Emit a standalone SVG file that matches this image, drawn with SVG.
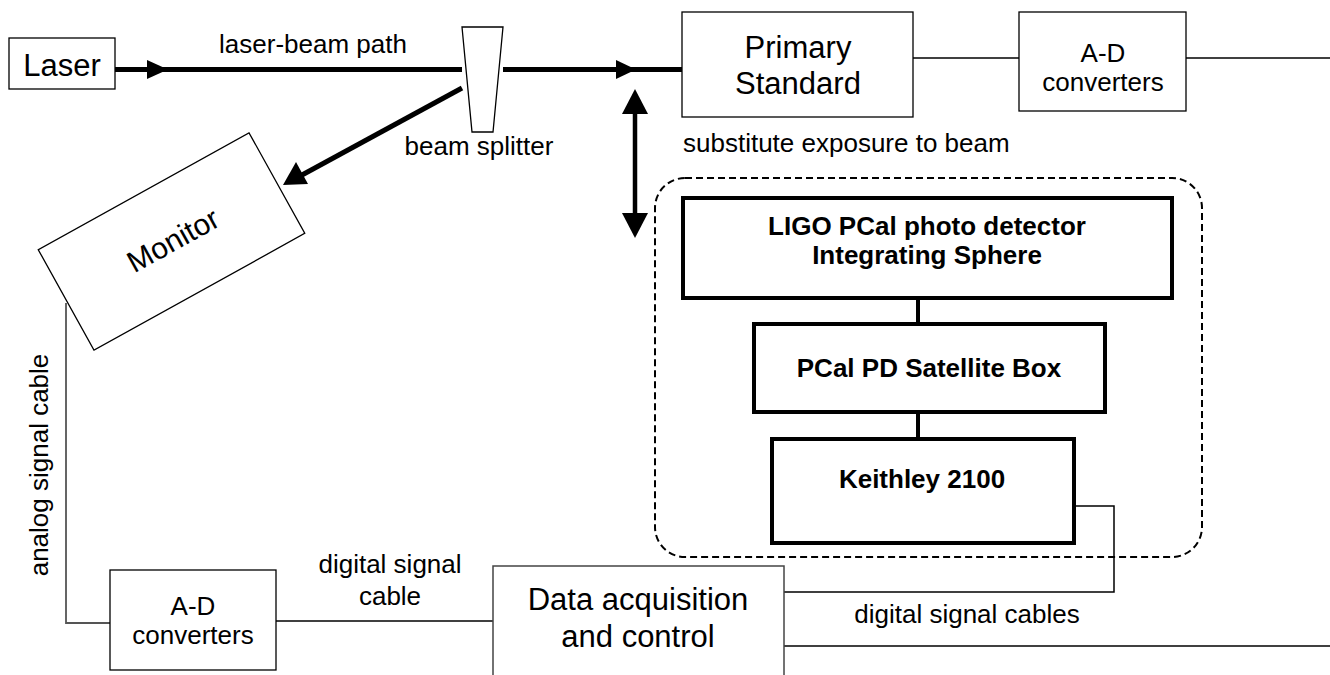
<svg xmlns="http://www.w3.org/2000/svg" width="1330" height="675" viewBox="0 0 1330 675">
<style>
text{font-family:"Liberation Sans",Arial,sans-serif;fill:#000}
.big{font-size:31px}
.mid{font-size:26px}
.b{font-size:26px;font-weight:bold}
.box{fill:#fff;stroke:#000;stroke-width:1.3}
.gbox{fill:#fff;stroke:#444;stroke-width:1.5}
.thick{fill:#fff;stroke:#000;stroke-width:4}
.beam{stroke:#000;stroke-width:5;fill:none}
.wire{stroke:#000;stroke-width:1.5;fill:none}
.gwire{stroke:#555;stroke-width:1.8;fill:none}
.head{fill:#000;stroke:none}
</style>
<g id="connectors">
<line class="beam" x1="115" y1="69.5" x2="462" y2="69.5"/>
<polygon class="head" points="147,60 168,69.5 147,79"/>
<line class="beam" x1="503" y1="69.5" x2="682" y2="69.5"/>
<polygon class="head" points="616,60 636,69.5 616,79"/>
<line class="beam" x1="462" y1="88" x2="302" y2="175"/>
<polygon class="head" points="283,185 296,162 308,184"/>
<line class="beam" x1="635" y1="108" x2="635" y2="218" style="stroke-width:4.5"/>
<polygon class="head" points="635,89 648,114 622,114"/>
<polygon class="head" points="635,238 648,213 622,213"/>
<line class="wire" x1="913" y1="58" x2="1019" y2="58"/>
<line class="wire" x1="1186" y1="58" x2="1330" y2="58"/>
<polyline class="gwire" points="66,303 66,623 110,623"/>
<line class="wire" x1="276" y1="621" x2="493" y2="621"/>
<polyline class="wire" points="1076,506 1114,506 1114,592 784,592"/>
<line class="wire" x1="784" y1="646" x2="1330" y2="646"/>
<line stroke="#000" stroke-width="4" x1="918" y1="298" x2="918" y2="324"/>
<line stroke="#000" stroke-width="4" x1="918" y1="412" x2="918" y2="439"/>
</g>
<g id="labels">
<text class="mid" x="313" y="53" text-anchor="middle">laser-beam path</text>
<text class="mid" x="479" y="155" text-anchor="middle">beam splitter</text>
<text class="mid" x="683" y="152">substitute exposure to beam</text>
<text class="mid" transform="translate(48,465) rotate(-90)" text-anchor="middle">analog signal cable</text>
<text class="mid" x="390" y="573" text-anchor="middle">digital signal</text>
<text class="mid" x="390" y="605" text-anchor="middle">cable</text>
<text class="mid" x="967" y="623" text-anchor="middle">digital signal cables</text>
</g>
<g id="laser">
<rect class="box" x="9" y="38" width="106" height="51"/>
<text class="big" x="62" y="76" text-anchor="middle">Laser</text>
</g>
<g id="beam-splitter">
<polygon class="box" points="462,27 503,27 493,132 472,132"/>
</g>
<g id="monitor" transform="translate(171.5,241.5) rotate(-29)">
<rect class="box" x="-120.5" y="-57.5" width="241" height="115"/>
<text class="big" x="2" y="10" text-anchor="middle" style="font-size:30px">Monitor</text>
</g>
<g id="primary-standard">
<rect class="box" x="682" y="12" width="231" height="105"/>
<text class="big" x="798" y="58" text-anchor="middle">Primary</text>
<text class="big" x="798" y="94" text-anchor="middle">Standard</text>
</g>
<g id="ad-top">
<rect class="box" x="1019" y="12" width="167" height="99"/>
<text class="mid" x="1103" y="62" text-anchor="middle">A-D</text>
<text class="mid" x="1103" y="91" text-anchor="middle">converters</text>
</g>
<g id="substitute-group">
<rect x="655" y="178" width="547" height="379" rx="30" ry="30" fill="none" stroke="#000" stroke-width="2" stroke-dasharray="7,4"/>
</g>
<g id="ligo-pd">
<rect class="thick" x="683" y="198" width="489" height="100"/>
<text class="b" x="927" y="235" text-anchor="middle">LIGO PCal photo detector</text>
<text class="b" x="927" y="264" text-anchor="middle">Integrating Sphere</text>
</g>
<g id="satellite-box">
<rect class="thick" x="754" y="324" width="351" height="88"/>
<text class="b" x="929" y="377" text-anchor="middle">PCal PD Satellite Box</text>
</g>
<g id="keithley">
<rect class="thick" x="772" y="439" width="302" height="104"/>
<text class="b" x="922" y="488" text-anchor="middle">Keithley 2100</text>
</g>
<g id="ad-bottom">
<rect class="box" x="110" y="570" width="166" height="100"/>
<text class="mid" x="193" y="615" text-anchor="middle">A-D</text>
<text class="mid" x="193" y="644" text-anchor="middle">converters</text>
</g>
<g id="daq">
<rect class="gbox" x="493" y="566" width="291" height="130"/>
<text class="big" x="638" y="610" text-anchor="middle">Data acquisition</text>
<text class="big" x="638" y="647" text-anchor="middle">and control</text>
</g>
</svg>
